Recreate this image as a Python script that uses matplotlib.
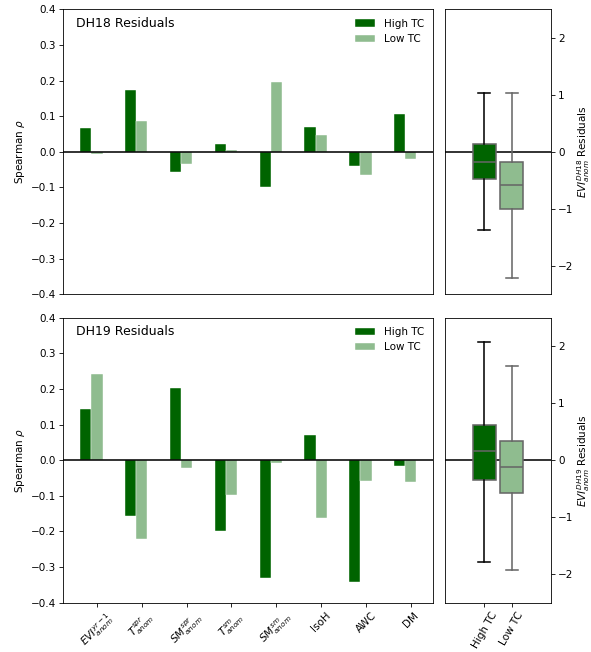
import numpy as np
import matplotlib
matplotlib.use("Agg")
import matplotlib.pyplot as plt

# predictor labels
labels = [r'$EVI^{yr-1}_{anom}$', r'$T^{spr}_{anom}$', r'$SM^{spr}_{anom}$',
          r'$T^{sm}_{anom}$', r'$SM^{sm}_{anom}$', 'IsoH', 'AWC', 'DM']

# spearman rho, DH18 residuals
dh18_high = [0.066, 0.173, -0.056, 0.022, -0.100, 0.070, -0.040, 0.106]
dh18_low = [-0.007, 0.086, -0.033, 0.004, 0.196, 0.047, -0.065, -0.021]

# spearman rho, DH19 residuals
dh19_high = [0.145, -0.156, 0.202, -0.199, -0.332, 0.071, -0.341, -0.016]
dh19_low = [0.243, -0.221, -0.021, -0.097, -0.007, -0.162, -0.058, -0.062]

# residual box summaries: low whisker, q1, median, q3, high whisker
groups = ['High TC', 'Low TC']
dh18_box = [[-1.38, -0.476, -0.174, 0.134, 1.04],
            [-2.21, -1.00, -0.578, -0.174, 1.04]]
dh19_box = [[-1.78, -0.34, 0.165, 0.62, 2.075],
            [-1.92, -0.58, -0.123, 0.333, 1.65]]

dark = 'darkgreen'
light = 'darkseagreen'
grey = '#666666'

DPI = 75
W, H = 591.0, 652.0
fig = plt.figure(figsize=(W / DPI, H / DPI), dpi=DPI)

def rect(l, t, w, h):
    return [l / W, 1 - (t + h) / H, w / W, h / H]

ax_tl = fig.add_axes(rect(63.3, 9.3, 370, 285))
ax_tr = fig.add_axes(rect(445, 9.3, 106, 285))
ax_bl = fig.add_axes(rect(63.3, 317.7, 370, 285))
ax_br = fig.add_axes(rect(445, 317.7, 106, 285))


def bars(ax, high, low, title):
    x = np.arange(len(labels))
    w = 0.25
    ax.bar(x - w, high, w, color=dark, edgecolor='white', linewidth=0.4, label='High TC')
    ax.bar(x, low, w, color=light, edgecolor='white', linewidth=0.4, label='Low TC')
    ax.axhline(0, color='black', lw=1.5)
    ax.set_ylim(-0.4, 0.4)
    ax.set_ylabel(r'Spearman $\rho$')
    ax.text(0.035, 0.95, title, transform=ax.transAxes, va='center', ha='left', fontsize=12)
    ax.legend(loc='upper right', frameon=False)
    ax.set_xticks(x)


def boxes(ax, box, name):
    stats = []
    for b, g in zip(box, groups):
        stats.append(dict(whislo=b[0], q1=b[1], med=b[2], q3=b[3], whishi=b[4], label=g))
    bp = ax.bxp(stats, positions=[0, 1], widths=0.85, patch_artist=True,
                showfliers=False, manage_ticks=False)
    for i, patch in enumerate(bp['boxes']):
        patch.set_facecolor([dark, light][i])
        patch.set_edgecolor(grey)
        patch.set_linewidth(1.5)
    for m in bp['medians']:
        m.set_color(grey)
        m.set_linewidth(1.5)
    wcol = ['black', 'black', grey, grey]
    for i, l in enumerate(bp['whiskers']):
        l.set_color(wcol[i])
        l.set_linewidth(1.5)
    for i, l in enumerate(bp['caps']):
        l.set_color(wcol[i])
        l.set_linewidth(1.5)
    ax.axhline(0, color='black', lw=1.5, zorder=0.5)
    ax.set_xlim(-1.43, 2.43)
    ax.set_ylim(-2.5, 2.5)
    ax.set_yticks([-2, -1, 0, 1, 2])
    ax.yaxis.tick_right()
    ax.yaxis.set_label_position('right')
    ax.set_ylabel(r'$EVI^{%s}_{anom}$ Residuals' % name, labelpad=1.5)
    ax.set_xticks([0, 1])


bars(ax_tl, dh18_high, dh18_low, 'DH18 Residuals')
bars(ax_bl, dh19_high, dh19_low, 'DH19 Residuals')
boxes(ax_tr, dh18_box, 'DH18')
boxes(ax_br, dh19_box, 'DH19')

ax_tl.tick_params(axis='x', bottom=False, labelbottom=False)
ax_tr.tick_params(axis='x', bottom=False, labelbottom=False)
ax_bl.set_xticklabels(labels, rotation=45)
ax_br.set_xticklabels(groups, rotation=60)

fig.savefig('out.png', dpi=DPI)
